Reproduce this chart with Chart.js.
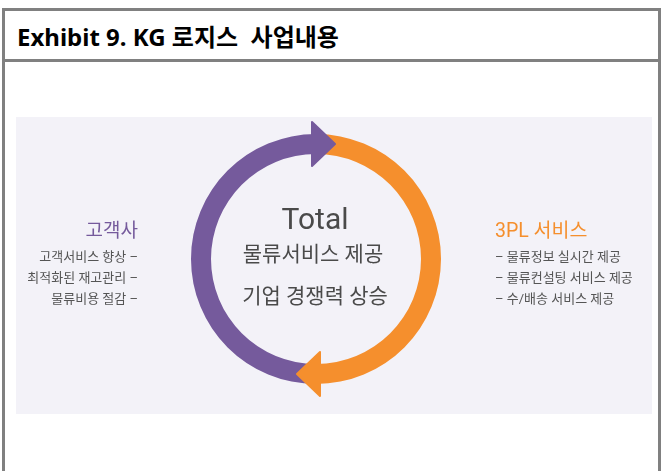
<!DOCTYPE html>
<html>
<head>
<meta charset="utf-8">
<script src="https://cdn.jsdelivr.net/npm/chart.js@4"></script>
<style>
  body { margin: 0; background: #fff; width: 661px; height: 471px; overflow: hidden; position: relative; }
  .bar { position: absolute; background: #808080; }
  #title { position: absolute; left: 17px; top: 18px; line-height: 24px; font: bold 24px "Noto Sans", "Noto Sans CJK KR", sans-serif; color: #000; white-space: pre; }
  #panel { position: absolute; left: 16px; top: 117px; width: 636px; height: 297px; background: #f3f2f8; }
</style>
</head>
<body>
<div class="bar" style="left:2px;top:8px;width:659px;height:3px"></div>
<div class="bar" style="left:2px;top:59px;width:659px;height:3px"></div>
<div class="bar" style="left:2px;top:8px;width:3px;height:463px"></div>
<div class="bar" style="left:658px;top:8px;width:3px;height:463px"></div>
<div id="title">Exhibit 9. KG 로지스  사업내용</div>
<div id="panel"><canvas id="cycle" width="636" height="297"></canvas></div>
<script>
const categories = ['고객사', '3PL 서비스'];
const shares = [50, 50];
const clientItems = ['고객서비스 향상 –', '최적화된 재고관리 –', '물류비용 절감 –'];
const serviceItems = ['– 물류정보 실시간 제공', '– 물류컨설팅 서비스 제공', '– 수/배송 서비스 제공'];
const centerLines = ['Total', '물류서비스 제공', '기업 경쟁력 상승'];
const ringColors = ['#755a9c', '#f58f2d'];

const kr = '"Roboto", "Noto Sans CJK KR", sans-serif';

// arrowhead at the end of each arc, plus all the labels
const cyclePlugin = {
    id: 'cycle',
    afterDatasetsDraw(chart) {
        const ctx = chart.ctx;
        const arcs = chart.getDatasetMeta(0).data;
        arcs.forEach((arc, i) => {
            const mid = (arc.innerRadius + arc.outerRadius) / 2;
            const a = arc.endAngle;
            const bx = arc.x + Math.cos(a) * mid;
            const by = arc.y + Math.sin(a) * mid;
            const tx = -Math.sin(a), ty = Math.cos(a); // clockwise tangent
            const nx = Math.cos(a), ny = Math.sin(a);
            const half = 22, len = 19, back = 4;
            ctx.save();
            ctx.fillStyle = ringColors[i];
            ctx.strokeStyle = ringColors[i];
            ctx.lineWidth = 2;
            ctx.lineJoin = 'round';
            ctx.beginPath();
            ctx.moveTo(bx - tx * back + nx * half, by - ty * back + ny * half);
            ctx.lineTo(bx + tx * len, by + ty * len);
            ctx.lineTo(bx - tx * back - nx * half, by - ty * back - ny * half);
            ctx.closePath();
            ctx.fill();
            ctx.stroke();
            ctx.restore();
        });
    },
    afterDraw(chart) {
        const ctx = chart.ctx;
        const arc = chart.getDatasetMeta(0).data[0];
        const cx = arc.x, cy = arc.y;
        ctx.save();
        ctx.textBaseline = 'middle';

        ctx.fillStyle = '#4a4a4a';
        ctx.textAlign = 'center';
        ctx.font = '30px ' + kr;
        ctx.fillText(centerLines[0], cx - 1, cy - 38);
        ctx.font = '21px ' + kr;
        ctx.fillText(centerLines[1], cx - 3, cy - 3);
        ctx.fillText(centerLines[2], cx - 1, cy + 39);

        ctx.textAlign = 'right';
        ctx.font = '19px ' + kr;
        ctx.fillStyle = ringColors[0];
        ctx.fillText(categories[0], cx - 178, cy - 27);
        ctx.font = '13px ' + kr;
        ctx.fillStyle = '#555';
        clientItems.forEach((t, i) => ctx.fillText(t, cx - 178, cy - 1 + i * 21));

        ctx.textAlign = 'left';
        ctx.font = '19.5px ' + kr;
        ctx.fillStyle = ringColors[1];
        ctx.fillText(categories[1], cx + 179, cy - 27);
        ctx.font = '13px ' + kr;
        ctx.fillStyle = '#555';
        serviceItems.forEach((t, i) => ctx.fillText(t, cx + 179, cy - 1 + i * 21));
        ctx.restore();
    }
};

new Chart(document.getElementById('cycle').getContext('2d'), {
    type: 'doughnut',
    data: {
        labels: categories,
        datasets: [{
            data: shares,
            backgroundColor: ringColors,
            borderWidth: 0
        }]
    },
    options: {
        responsive: false,
        animation: false,
        devicePixelRatio: 1,
        events: [],
        rotation: 180,
        cutout: 105,
        layout: { padding: { left: 175, right: 211, top: 17, bottom: 30 } },
        plugins: {
            legend: { display: false },
            tooltip: { enabled: false }
        }
    },
    plugins: [cyclePlugin]
});
</script>
</body>
</html>
